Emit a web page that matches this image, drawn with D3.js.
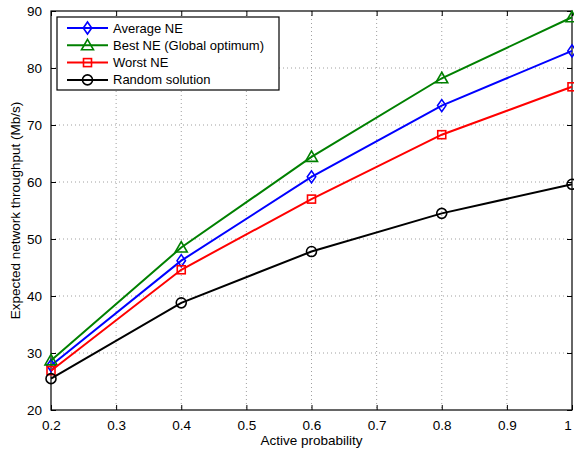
<!DOCTYPE html>
<html>
<head>
<meta charset="utf-8">
<script src="https://cdn.jsdelivr.net/npm/d3@7"></script>
<style>
  body { margin: 0; background: #fff; }
  text { font-family: "Liberation Sans", Arial, sans-serif; }
</style>
</head>
<body>
<div id="chart"></div>
<script>
var probs = [0.2, 0.4, 0.6, 0.8, 1.0];
var averageNE = [27.8, 46.2, 60.9, 73.4, 83.0];
var bestNE = [28.7, 48.5, 64.4, 78.2, 88.9];
var worstNE = [26.9, 44.6, 57.0, 68.3, 76.7];
var randomSol = [25.5, 38.8, 47.8, 54.5, 59.6];
var xTicks = [0.2, 0.3, 0.4, 0.5, 0.6, 0.7, 0.8, 0.9, 1];
var yTicks = [20, 30, 40, 50, 60, 70, 80, 90];

var series = [
    {name: "Average NE", values: averageNE, color: "#0000ff", marker: "diamond"},
    {name: "Best NE (Global optimum)", values: bestNE, color: "#008000", marker: "triangle"},
    {name: "Worst NE", values: worstNE, color: "#ff0000", marker: "square"},
    {name: "Random solution", values: randomSol, color: "#000000", marker: "circle"}
];

var W = 574, H = 451;
var margin = {top: 11, right: 2, bottom: 41, left: 51},
    width = W - margin.left - margin.right,
    height = H - margin.top - margin.bottom;

var svg = d3.select("#chart").append("svg")
    .attr("width", W)
    .attr("height", H)
    .append("g")
    .attr("transform", "translate(" + margin.left + "," + margin.top + ")");

var x = d3.scaleLinear().domain([0.2, 1]).range([0, width]);
var y = d3.scaleLinear().domain([20, 90]).range([height, 0]);

// grid
svg.selectAll(".vgrid").data(xTicks.slice(1, -1)).enter().append("line")
    .attr("x1", function(d) { return x(d); }).attr("x2", function(d) { return x(d); })
    .attr("y1", 0).attr("y2", height)
    .attr("stroke", "#888").attr("stroke-width", 0.8).attr("stroke-dasharray", "1,3");
svg.selectAll(".hgrid").data(yTicks.slice(1, -1)).enter().append("line")
    .attr("y1", function(d) { return y(d); }).attr("y2", function(d) { return y(d); })
    .attr("x1", 0).attr("x2", width)
    .attr("stroke", "#888").attr("stroke-width", 0.8).attr("stroke-dasharray", "1,3");

// axes (ticks inward, MATLAB style)
svg.append("g").attr("class", "xaxis").attr("transform", "translate(0," + height + ")")
    .call(d3.axisBottom(x).tickValues(xTicks).tickSizeInner(-5).tickSizeOuter(0).tickPadding(10)
        .tickFormat(function(d) { return d === 1 ? "1" : d3.format(".1f")(d); }))
    .call(function(g) { g.select(".domain").remove(); });
svg.append("g")
    .call(d3.axisTop(x).tickValues(xTicks).tickSizeInner(-5).tickSizeOuter(0).tickFormat(""))
    .call(function(g) { g.select(".domain").remove(); });
svg.append("g")
    .call(d3.axisLeft(y).tickValues(yTicks).tickSizeInner(-5).tickSizeOuter(0).tickPadding(9))
    .call(function(g) { g.select(".domain").remove(); });
svg.append("g").attr("transform", "translate(" + width + ",0)")
    .call(d3.axisRight(y).tickValues(yTicks).tickSizeInner(-5).tickSizeOuter(0).tickFormat(""))
    .call(function(g) { g.select(".domain").remove(); });

svg.selectAll(".tick line").attr("stroke", "#000");
svg.selectAll(".tick text").attr("font-size", 13.5).attr("fill", "#000")
    .style("font-family", "Liberation Sans, Arial, sans-serif");
// keep the last x label inside the window
svg.selectAll(".xaxis .tick text").filter(function(d) { return d === 1; })
    .attr("text-anchor", "end").attr("dx", "-0.05em");

svg.append("rect").attr("width", width).attr("height", height)
    .attr("fill", "none").attr("stroke", "#000").attr("stroke-width", 1.2);

// lines
var line = d3.line()
    .x(function(d, i) { return x(probs[i]); })
    .y(function(d) { return y(d); });

function drawMarker(g, type, cx, cy, color, s) {
    if (type === "circle") {
        g.append("circle").attr("cx", cx).attr("cy", cy).attr("r", s * 0.5)
            .attr("fill", "none").attr("stroke", color).attr("stroke-width", 1.6);
    } else if (type === "square") {
        g.append("rect").attr("x", cx - s * 0.4).attr("y", cy - s * 0.4)
            .attr("width", s * 0.8).attr("height", s * 0.8)
            .attr("fill", "none").attr("stroke", color).attr("stroke-width", 1.6);
    } else if (type === "diamond") {
        g.append("path").attr("d", "M" + cx + "," + (cy - s * 0.6) + "L" + (cx + s * 0.42) + "," + cy +
                "L" + cx + "," + (cy + s * 0.6) + "L" + (cx - s * 0.42) + "," + cy + "Z")
            .attr("fill", "none").attr("stroke", color).attr("stroke-width", 1.6);
    } else if (type === "triangle") {
        g.append("path").attr("d", "M" + cx + "," + (cy - s * 0.6) + "L" + (cx + s * 0.6) + "," + (cy + s * 0.45) +
                "L" + (cx - s * 0.6) + "," + (cy + s * 0.45) + "Z")
            .attr("fill", "none").attr("stroke", color).attr("stroke-width", 1.6);
    }
}

var plot = svg.append("g");
series.forEach(function(s) {
    plot.append("path").datum(s.values).attr("d", line)
        .attr("fill", "none").attr("stroke", s.color).attr("stroke-width", 2);
    s.values.forEach(function(v, i) {
        drawMarker(plot, s.marker, x(probs[i]), y(v), s.color, 10);
    });
});

// legend
var leg = svg.append("g").attr("transform", "translate(6,6)");
leg.append("rect").attr("width", 222).attr("height", 73)
    .attr("fill", "#fff").attr("stroke", "#000").attr("stroke-width", 1.2);
series.forEach(function(s, i) {
    var ly = 11 + i * 17.3;
    leg.append("line").attr("x1", 10).attr("x2", 51).attr("y1", ly).attr("y2", ly)
        .attr("stroke", s.color).attr("stroke-width", 2);
    drawMarker(leg, s.marker, 30.5, ly, s.color, 10);
    leg.append("text").attr("x", 56).attr("y", ly + 4.5)
        .attr("font-size", 13).attr("fill", "#000").text(s.name);
});

// axis titles
svg.append("text").attr("x", width / 2).attr("y", height + 35)
    .attr("text-anchor", "middle").attr("font-size", 13.5).text("Active probability");
svg.append("text").attr("transform", "translate(" + (-31) + "," + (height / 2) + ") rotate(-90)")
    .attr("text-anchor", "middle").attr("font-size", 13.5).text("Expected network throughput (Mb/s)");
</script>
</body>
</html>
